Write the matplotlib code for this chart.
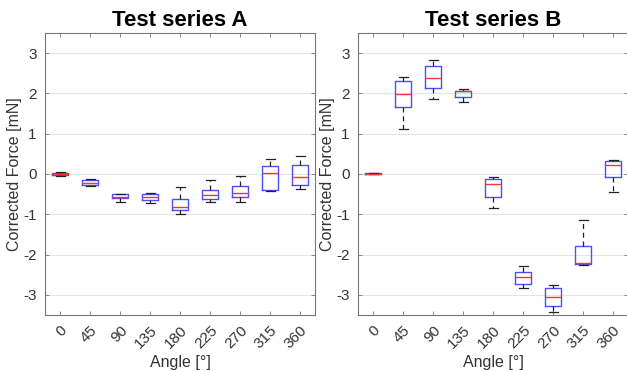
import matplotlib
matplotlib.use("Agg")
import matplotlib.pyplot as plt

plt.rcParams['font.family'] = ['Liberation Sans', 'DejaVu Sans']

angles = ["0", "45", "90", "135", "180", "225", "270", "315", "360"]

# Test series A (box stats)
a_whislo = [-0.04, -0.31, -0.69, -0.72, -0.99, -0.70, -0.69, -0.42, -0.38]
a_q1 = [-0.02, -0.28, -0.60, -0.64, -0.89, -0.62, -0.58, -0.39, -0.27]
a_med = [0.00, -0.22, -0.56, -0.56, -0.81, -0.52, -0.48, 0.02, -0.07]
a_q3 = [0.02, -0.16, -0.50, -0.50, -0.62, -0.39, -0.31, 0.21, 0.23]
a_whishi = [0.05, -0.12, -0.49, -0.48, -0.32, -0.16, -0.05, 0.36, 0.45]

# Test series B
b_whislo = [-0.01, 1.11, 1.85, 1.78, -0.84, -2.83, -3.43, -2.27, -0.44]
b_q1 = [-0.01, 1.67, 2.13, 1.91, -0.57, -2.74, -3.27, -2.24, -0.07]
b_med = [0.00, 1.98, 2.38, 2.05, -0.24, -2.55, -3.05, -2.22, 0.22]
b_q3 = [0.02, 2.30, 2.67, 2.07, -0.12, -2.43, -2.84, -1.79, 0.32]
b_whishi = [0.02, 2.41, 2.84, 2.11, -0.07, -2.28, -2.75, -1.13, 0.34]


def make_stats(lo, q1, med, q3, hi):
    return [dict(whislo=lo[i], q1=q1[i], med=med[i], q3=q3[i], whishi=hi[i], fliers=[])
            for i in range(len(med))]


def draw(ax, stats, title):
    ax.bxp(stats, positions=range(1, len(stats) + 1), widths=0.55, capwidths=0.3,
           showfliers=False,
           boxprops=dict(color='#4d4dff', linewidth=1.0),
           medianprops=dict(color='#ff3333', linewidth=1.0),
           whiskerprops=dict(color='#222222', linewidth=0.9, linestyle=(0, (4, 3))),
           capprops=dict(color='#222222', linewidth=0.9))
    ax.set_xlim(0.5, len(stats) + 0.5)
    ax.set_ylim(-3.5, 3.5)
    ax.set_yticks([-3, -2, -1, 0, 1, 2, 3])
    ax.set_yticklabels(["-3", "-2", "-1", "0", "1", "2", "3"])
    ax.set_xticks(range(1, len(stats) + 1))
    ax.set_xticklabels(angles, rotation=45, ha='right', rotation_mode='anchor')
    ax.yaxis.grid(True, color='#e4e4e4', linewidth=0.8)
    ax.set_axisbelow(True)
    ax.tick_params(direction='in', length=3, width=0.6, colors='#777777',
                   labelcolor='#333333', labelsize=11, top=True, right=True, pad=6)
    for s in ax.spines.values():
        s.set_color('#777777')
        s.set_linewidth(0.8)
    ax.set_xlabel("Angle [°]", fontsize=11.5, color='#333333', labelpad=3)
    ax.set_ylabel("Corrected Force [mN]", fontsize=11.5, color='#333333', labelpad=1)
    ax.set_title(title, fontsize=16, fontweight='bold', pad=5)


fig = plt.figure(figsize=(6.27, 3.71), dpi=100)
fig.patch.set_facecolor('white')
ax1 = fig.add_axes([0.0718, 0.151, 0.4306, 0.760])
ax2 = fig.add_axes([0.571, 0.151, 0.4306, 0.760])

draw(ax1, make_stats(a_whislo, a_q1, a_med, a_q3, a_whishi), "Test series A")
draw(ax2, make_stats(b_whislo, b_q1, b_med, b_q3, b_whishi), "Test series B")

fig.savefig("out.png", dpi=100)
